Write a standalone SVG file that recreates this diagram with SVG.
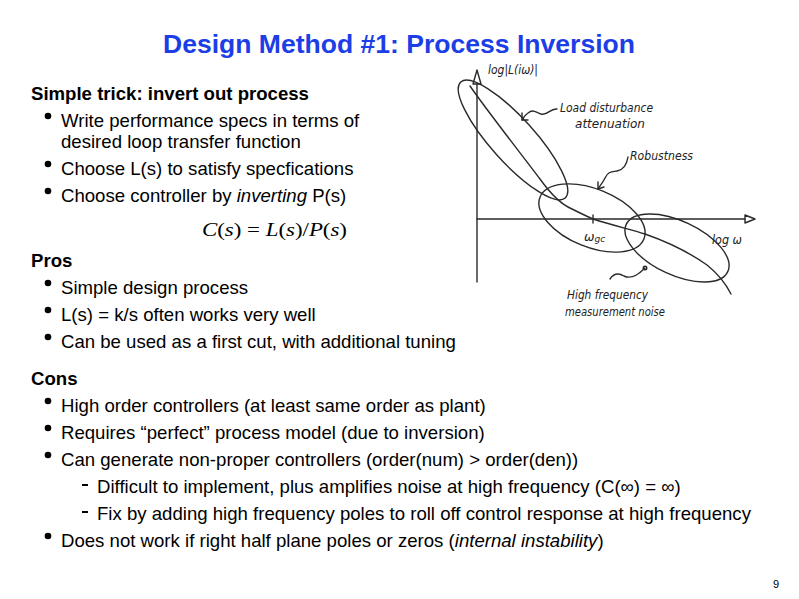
<svg xmlns="http://www.w3.org/2000/svg" width="799" height="599" viewBox="0 0 799 599">
<style>
.title{font-family:"Liberation Sans",Arial,sans-serif;font-weight:bold;font-size:26px;fill:#1c3ee6}
.h{font-family:"Liberation Sans",Arial,sans-serif;font-weight:bold;font-size:18.6px;fill:#000}
.t{font-family:"Liberation Sans",Arial,sans-serif;font-size:18.6px;fill:#000}
.i{font-style:italic}
.m{font-family:"Liberation Serif","Times New Roman",serif;font-size:19px;fill:#000}
.hw{font-family:"DejaVu Sans",sans-serif;font-style:italic;font-size:12.5px;fill:#222}
.sk{fill:none;stroke:#2a2a2a;stroke-width:1.4;stroke-linecap:round;stroke-linejoin:round}
.dot{fill:#000}
</style>
<rect width="799" height="599" fill="#fff"/>
<text class="title" x="163" y="53" textLength="472" lengthAdjust="spacingAndGlyphs">Design Method #1: Process Inversion</text>

<g id="text-left">
<text class="h" x="31" y="100">Simple trick: invert out process</text>
<circle class="dot" cx="48" cy="116" r="3.3"/>
<text class="t" x="61" y="127">Write performance specs in terms of</text>
<text class="t" x="61" y="148">desired loop transfer function</text>
<circle class="dot" cx="48" cy="164" r="3.3"/>
<text class="t" x="61" y="175">Choose L(s) to satisfy specfications</text>
<circle class="dot" cx="48" cy="191" r="3.3"/>
<text class="t" x="61" y="202">Choose controller by <tspan class="i">inverting</tspan> P(s)</text>
<text class="m" x="202" y="236" textLength="145" lengthAdjust="spacingAndGlyphs"><tspan class="i">C</tspan>(<tspan class="i">s</tspan>) = <tspan class="i">L</tspan>(<tspan class="i">s</tspan>)/<tspan class="i">P</tspan>(<tspan class="i">s</tspan>)</text>

<text class="h" x="31" y="267">Pros</text>
<circle class="dot" cx="48" cy="283" r="3.3"/>
<text class="t" x="61" y="294">Simple design process</text>
<circle class="dot" cx="48" cy="310" r="3.3"/>
<text class="t" x="61" y="321">L(s) = k/s often works very well</text>
<circle class="dot" cx="48" cy="337" r="3.3"/>
<text class="t" x="61" y="348">Can be used as a first cut, with additional tuning</text>

<text class="h" x="31" y="385">Cons</text>
<circle class="dot" cx="48" cy="401" r="3.3"/>
<text class="t" x="61" y="412">High order controllers (at least same order as plant)</text>
<circle class="dot" cx="48" cy="428" r="3.3"/>
<text class="t" x="61" y="439">Requires “perfect” process model (due to inversion)</text>
<circle class="dot" cx="48" cy="455" r="3.3"/>
<text class="t" x="61" y="466">Can generate non-proper controllers (order(num) &gt; order(den))</text>
<line x1="82" y1="485" x2="88" y2="485" stroke="#000" stroke-width="2"/>
<text class="t" x="97" y="493">Difficult to implement, plus amplifies noise at high frequency (C(∞) = ∞)</text>
<line x1="82" y1="512" x2="88" y2="512" stroke="#000" stroke-width="2"/>
<text class="t" x="97" y="520">Fix by adding high frequency poles to roll off control response at high frequency</text>
<circle class="dot" cx="48" cy="536" r="3.3"/>
<text class="t" x="61" y="547">Does not work if right half plane poles or zeros (<tspan class="i">internal instability</tspan>)</text>
</g>

<text class="t" x="773" y="588" style="font-size:11px">9</text>

<g id="sketch">
<g id="axes">
<line class="sk" x1="477" y1="84" x2="477" y2="282"/>
<polygon class="sk" points="477,70 473,84 481,84"/>
<line class="sk" x1="477" y1="219" x2="745" y2="219"/>
<polygon class="sk" points="755,219 745,215 745,223"/>
<line class="sk" x1="593" y1="215" x2="593" y2="223"/>
<text class="hw" x="488" y="74" textLength="50" lengthAdjust="spacingAndGlyphs">log|L(iω)|</text>
<text class="hw" x="712" y="244" textLength="30" lengthAdjust="spacingAndGlyphs">log ω</text>
<text class="hw" x="584" y="241">ω<tspan font-size="9" dy="1">gc</tspan></text>
</g>
<g id="loop-curve">
<path class="sk" d="M470,86 C488,112 522,155 540,179 C550,193 560,204 572,209 C580,213 586,216 593,219 C612,225 632,230 645,234 C665,241 690,253 707,265 C717,273 725,282 731,294"/>
</g>
<g id="load-disturbance">
<ellipse class="sk" cx="513" cy="140" rx="78" ry="22" transform="rotate(48 513 140)"/>
<text class="hw" x="560" y="112" textLength="93" lengthAdjust="spacingAndGlyphs">Load disturbance</text>
<text class="hw" x="575" y="128" textLength="70" lengthAdjust="spacingAndGlyphs">attenuation</text>
</g>
<g id="robustness">
<ellipse class="sk" cx="592" cy="218" rx="56" ry="29" transform="rotate(22 592 218)"/>
<text class="hw" x="630" y="160" textLength="63" lengthAdjust="spacingAndGlyphs">Robustness</text>
</g>
<g id="noise">
<ellipse class="sk" cx="677" cy="248" rx="56" ry="27" transform="rotate(25 677 248)"/>
<text class="hw" x="567" y="299" textLength="81" lengthAdjust="spacingAndGlyphs">High frequency</text>
<text class="hw" x="565" y="316" textLength="100" lengthAdjust="spacingAndGlyphs">measurement noise</text>
</g>
</g>

<g id="connectors">
<path class="sk" d="M557,109 C550,108 548,116 541,114 C535,112 533,109 528,113 C525,115 524,117 522,120"/>
<path class="sk" d="M522,120 L522,113 M522,120 L528,120"/>
<path class="sk" d="M628,157 C627,163 624,170 617,171 C610,172 608,172 605,178 C603,182 600,186 598,189"/>
<path class="sk" d="M598,189 L598,182 M598,189 L604,187"/>
<path class="sk" d="M610,279 C614,273 619,273 624,276 C630,279 636,277 645,268"/>
<circle class="sk" cx="645" cy="268" r="1.8"/>
</g>
</svg>
